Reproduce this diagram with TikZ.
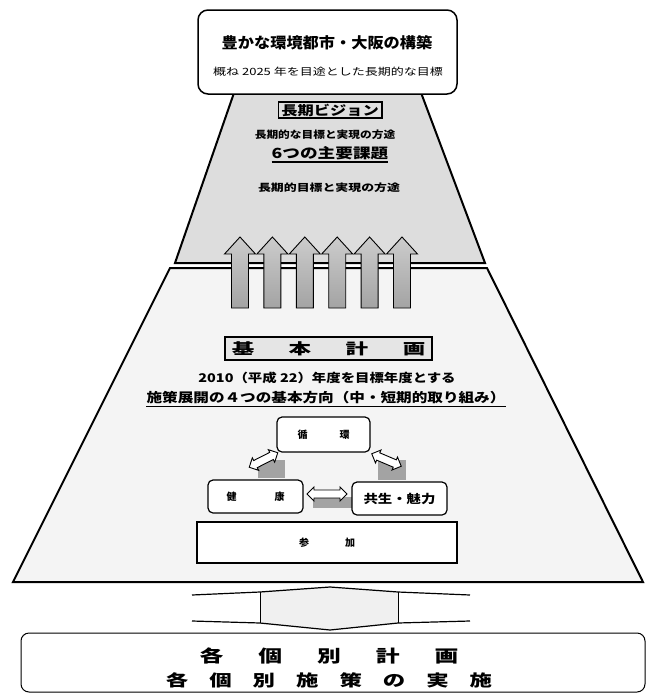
\documentclass[tikz,border=0pt]{standalone}
\usepackage{fontspec}
\usepackage{graphicx}
\setmainfont{Noto Sans CJK JP}
\usetikzlibrary{shapes.arrows,calc}
\newcommand{\sx}[2]{\scalebox{#1}[1]{#2}}
\newcommand{\fs}[1]{\fontsize{#1}{#1}\selectfont}
\tikzset{
  trap/.style={draw=black, line width=2pt, line join=miter},
  plainbox/.style={draw=black, fill=white, line width=1.2pt, rounded corners=5pt, inner sep=0pt, font=\bfseries},
  uparrow/.style={draw=black, line width=0.9pt, top color=gray!40, bottom color=gray!72},
  dblarrow/.style={shape=double arrow, draw=black, fill=white, line width=0.9pt, minimum width=14pt, minimum height=32pt, double arrow head extend=3pt, inner xsep=0pt, inner ysep=3.5pt},
  shade/.style={fill=gray!72},
  lbl/.style={inner sep=0pt, font=\bfseries},
  uline/.style={line width=1.5pt},
}
\begin{document}
\begin{tikzpicture}[x=1pt,y=-1pt]
\useasboundingbox (0,0) rectangle (647,694);
% trapezoids
\path[trap, fill=gray!27] (235,90) -- (420,90) -- (485,263) -- (175,263) -- cycle;
\path[trap, fill=gray!9] (170,268) -- (487,268) -- (643,582) -- (13,582) -- cycle;
% top box
\node[draw, line width=1.5pt, rounded corners=10pt, fill=white, minimum width=259pt, minimum height=84pt, inner sep=0pt] (top) at (327.5,52) {};
\node[lbl] (title) at (327,43) {\fs{15}\sx{1.08}{豊かな環境都市・大阪の構築}};
\node[inner sep=0pt] (sub) at (328,72) {\fs{10}\sx{1.3}{概ね 2025 年を目途とした長期的な目標}};
% long-term vision
\node[draw, line width=1.5pt, fill=gray!25, inner xsep=3pt, inner ysep=1.5pt, font=\bfseries] (vision) at (330,110) {\fs{13}\sx{1.25}{長期ビジョン}};
\node[lbl] (v1) at (325,135) {\fs{10}\sx{1.17}{長期的な目標と実現の方途}};
\node[lbl] (v2) at (330,153) {\fs{14}\sx{1.26}{6つの主要課題}};
\draw[uline] ([yshift=-2pt]v2.south west) -- ([yshift=-2pt]v2.south east);
\node[lbl] (v3) at (329,188) {\fs{10}\sx{1.29}{長期的目標と実現の方途}};
% six up arrows
\foreach \i in {0,...,5} {
  \pgfmathsetmacro\cx{240+32.4*\i}
  \draw[uparrow] (\cx-8.5,308) -- (\cx-8.5,254) -- (\cx-15.5,254) -- (\cx,237) -- (\cx+15.5,254) -- (\cx+8.5,254) -- (\cx+8.5,308) -- cycle;
}
% basic plan
\node[draw, line width=1.5pt, fill=gray!20, minimum width=207pt, minimum height=23pt, inner sep=0pt, font=\bfseries] (kihon) at (328.5,348.5) {\fs{15}\sx{1.5}{基\hspace{23pt}本\hspace{23pt}計\hspace{23pt}画}};
\node[lbl] (k1) at (327,378) {\fs{12}\sx{1.2}{2010（平成 22）年度を目標年度とする}};
\node[lbl] (k2) at (326,398) {\fs{13}\sx{1.2}{施策展開の４つの基本方向（中・短期的取り組み）}};
\draw[uline] ([yshift=-2pt]k2.south west) -- ([yshift=-2pt]k2.south east);
% shading blocks of small arrows
\fill[shade] (258,460) rectangle (285,478);
\fill[shade] (378,460) rectangle (406,480);
\fill[shade] (313,497) rectangle (353,508);
% four boxes
\node[plainbox, minimum width=93pt, minimum height=35pt] (junkan) at (323.5,434.5) {\fs{10}循\hspace{32pt}環};
\node[plainbox, minimum width=95pt, minimum height=33pt] (kenko) at (255.5,496.5) {\fs{10}健\hspace{38pt}康};
\node[plainbox, minimum width=95pt, minimum height=33pt] (kyosei) at (399.5,498.5) {\fs{12}\sx{1.2}{共生・魅力}};
\node[draw, fill=white, line width=1.2pt, minimum width=260pt, minimum height=41pt, inner sep=0pt, font=\bfseries] (sanka) at (327,542.5) {\fs{10}参\hspace{36pt}加};
% small double arrows
\node[dblarrow, rotate=27] (a1) at (263.5,460) {};
\node[dblarrow, rotate=-23] (a2) at (386.5,460) {};
\node[dblarrow, minimum height=40pt] (a3) at (327,494) {};
% big connector to the bottom box
\fill[gray!12] (260,591) -- (330,587) -- (398,591) -- (398,624) -- (330,630) -- (260,624) -- cycle;
\draw[line width=1.2pt] (192,595) -- (260,592) -- (330,587) -- (398,592) -- (470,595);
\draw[line width=1.2pt] (192,621) -- (260,623) -- (330,630) -- (398,623) -- (470,621);
\draw[line width=1pt] (260,592) -- (260,623) (398,592) -- (398,623);
% bottom box
\node[draw, line width=1pt, rounded corners=8pt, fill=white, minimum width=624pt, minimum height=59pt, inner sep=0pt] (bottom) at (333,662.5) {};
\node[lbl] (b1) at (329,656) {\fs{17}\sx{1.4}{各\hspace{25pt}個\hspace{25pt}別\hspace{25pt}計\hspace{25pt}画}};
\node[lbl] (b2) at (329,680) {\fs{16}\sx{1.4}{各\hspace{15pt}個\hspace{15pt}別\hspace{15pt}施\hspace{15pt}策\hspace{15pt}の\hspace{15pt}実\hspace{15pt}施}};
\end{tikzpicture}
\end{document}
